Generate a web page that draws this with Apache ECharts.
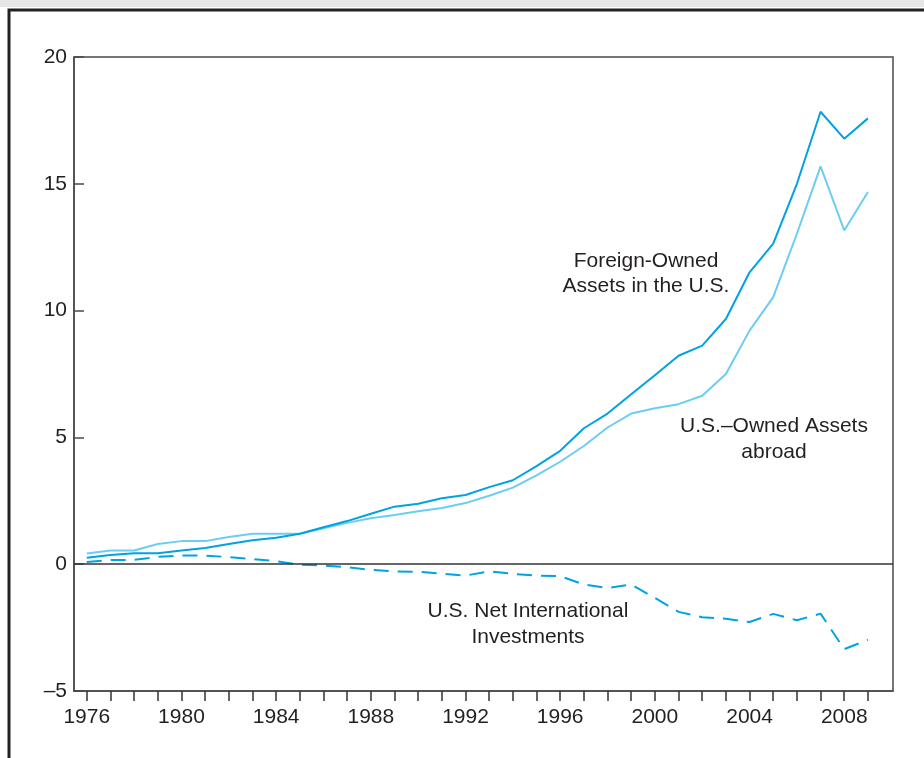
<!DOCTYPE html>
<html>
<head>
<meta charset="utf-8">
<title>U.S. international assets</title>
<script src="https://cdn.jsdelivr.net/npm/echarts@6/dist/echarts.min.js"></script>
<style>
  html, body { margin: 0; padding: 0; background: #fff; }
  #chart { width: 924px; height: 758px; }
</style>
</head>
<body>
<div id="chart"></div>
<script>
// years on the x axis
var years = [1976, 1977, 1978, 1979, 1980, 1981, 1982, 1983, 1984, 1985,
  1986, 1987, 1988, 1989, 1990, 1991, 1992, 1993, 1994, 1995,
  1996, 1997, 1998, 1999, 2000, 2001, 2002, 2003, 2004, 2005,
  2006, 2007, 2008, 2009];

// trillions of dollars
var foreignOwned = [0.25, 0.36, 0.43, 0.43, 0.54, 0.64, 0.80, 0.94, 1.04, 1.20,
  1.46, 1.70, 1.99, 2.27, 2.38, 2.60, 2.73, 3.04, 3.31, 3.87,
  4.47, 5.36, 5.94, 6.70, 7.45, 8.22, 8.62, 9.67, 11.51, 12.64,
  15.00, 17.84, 16.78, 17.58];

var usOwned = [0.42, 0.54, 0.54, 0.80, 0.91, 0.91, 1.07, 1.20, 1.20, 1.20,
  1.42, 1.63, 1.81, 1.94, 2.09, 2.22, 2.41, 2.70, 3.02, 3.50,
  4.04, 4.66, 5.39, 5.94, 6.15, 6.31, 6.64, 7.50, 9.21, 10.53,
  13.03, 15.69, 13.16, 14.68];

var netPosition = [0.09, 0.17, 0.17, 0.29, 0.34, 0.34, 0.28, 0.20, 0.12, -0.02,
  -0.05, -0.12, -0.22, -0.29, -0.30, -0.37, -0.45, -0.28, -0.38, -0.45,
  -0.47, -0.80, -0.94, -0.80, -1.33, -1.88, -2.09, -2.15, -2.28, -1.96,
  -2.21, -1.95, -3.35, -2.98];

var labelYears = [1976, 1980, 1984, 1988, 1992, 1996, 2000, 2004, 2008];

var darkBlue = '#00a3e0';
var lightBlue = '#6ccdf3';
var ink = '#231f20';
var fontFam = '"Liberation Sans", Arial, sans-serif';

function pairs(vals) {
  return years.map(function (y, i) { return [y, vals[i]]; });
}

var chart = echarts.init(document.getElementById('chart'));

var option = {
  backgroundColor: '#fff',
  animation: false,
  grid: {
    left: 74, right: 31, top: 57, bottom: 67,
    show: true, borderColor: '#4a4a4a', borderWidth: 1.5
  },
  xAxis: {
    type: 'value',
    min: 1975.46,
    max: 2010.06,
    axisLine: { show: true, onZero: false, lineStyle: { color: '#4a4a4a', width: 1.5 } },
    axisTick: {
      show: true, inside: false, length: 10,
      customValues: years,
      lineStyle: { color: '#333', width: 1.5 }
    },
    axisLabel: {
      customValues: labelYears,
      margin: 16,
      color: ink, fontSize: 21, fontFamily: fontFam,
      formatter: function (v) { return String(v); }
    },
    splitLine: { show: false }
  },
  yAxis: {
    type: 'value',
    min: -5, max: 20, interval: 5,
    axisLine: { show: true, lineStyle: { color: '#4a4a4a', width: 1.5 } },
    axisTick: { show: true, inside: true, length: 10, lineStyle: { color: '#4a4a4a', width: 1.5 } },
    axisLabel: {
      margin: 7, color: ink, fontSize: 21, fontFamily: fontFam,
      formatter: function (v) { return v < 0 ? '\u2013' + Math.abs(v) : String(v); }
    },
    splitLine: { show: false }
  },
  series: [
    {
      name: 'U.S.-Owned Assets abroad',
      type: 'line',
      data: pairs(usOwned),
      showSymbol: false,
      lineStyle: { color: lightBlue, width: 2 },
      z: 2
    },
    {
      name: 'Foreign-Owned Assets in the U.S.',
      type: 'line',
      data: pairs(foreignOwned),
      showSymbol: false,
      lineStyle: { color: darkBlue, width: 2 },
      z: 3
    },
    {
      name: 'U.S. Net International Investments',
      type: 'line',
      data: pairs(netPosition),
      showSymbol: false,
      lineStyle: { color: darkBlue, width: 2, type: [15, 9] },
      z: 3,
      markLine: {
        silent: true,
        symbol: 'none',
        label: { show: false },
        lineStyle: { color: '#333', width: 1.5, type: 'solid' },
        data: [{ yAxis: 0 }]
      }
    }
  ],
  graphic: [
    // page frame
    { type: 'rect', shape: { x: 0, y: 0, width: 924, height: 7 }, style: { fill: '#e6e6e6' }, silent: true },
    {
      type: 'polyline', silent: true,
      shape: { points: [[9, 758], [9, 10], [924, 10]] },
      style: { stroke: '#222', lineWidth: 3, fill: null }
    },
    {
      type: 'text', x: 646, y: 249,
      style: { text: 'Foreign-Owned\nAssets in the U.S.', fill: ink, font: '21px ' + fontFam, align: 'center', lineHeight: 25 }
    },
    {
      type: 'text', x: 774, y: 413,
      style: { text: 'U.S.\u2013Owned Assets\nabroad', fill: ink, font: '21px ' + fontFam, align: 'center', lineHeight: 26 }
    },
    {
      type: 'text', x: 528, y: 598,
      style: { text: 'U.S. Net International\nInvestments', fill: ink, font: '21px ' + fontFam, align: 'center', lineHeight: 26 }
    }
  ]
};

chart.setOption(option);
</script>
</body>
</html>
